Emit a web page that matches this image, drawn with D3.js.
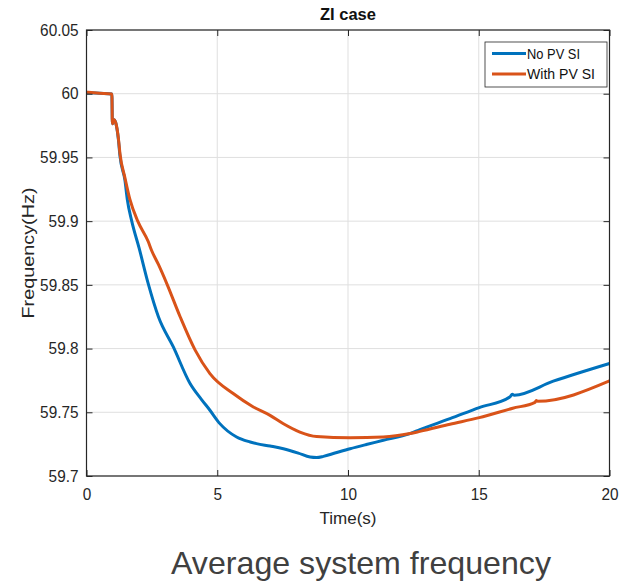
<!DOCTYPE html>
<html><head><meta charset="utf-8">
<script src="https://cdn.jsdelivr.net/npm/d3@7/dist/d3.min.js"></script>
<style>body{margin:0;background:#fff}svg{display:block}text{font-family:"Liberation Sans",Arial,sans-serif}</style>
</head><body>
<svg id="c" width="621" height="582"></svg>
<script>
const timeNoPV = [0,0.5,0.97,0.99,1.05,1.12,1.22,1.28,1.47,1.56,1.73,2.01,2.36,2.75,3.32,3.96,4.4,4.72,5.1,5.74,6.26,6.5,7.02,7.53,8.1,8.55,8.8,9.06,9.5,10.08,10.7,11.35,12.37,12.75,13.9,15.02,16.2,16.28,16.36,17.85,20];
const freqNoPV = [60.0008,60.0003,59.9998,59.9765,59.9795,59.977,59.964,59.951,59.932,59.917,59.900,59.879,59.851,59.825,59.8013,59.7726,59.760,59.7516,59.7411,59.7306,59.7267,59.7254,59.7235,59.7214,59.718,59.7149,59.7145,59.7154,59.718,59.7214,59.7247,59.728,59.7333,59.7364,59.745,59.7537,59.7622,59.7642,59.7634,59.7744,59.7883];
const timeWithPV = [0,0.5,0.97,0.99,1.05,1.12,1.22,1.28,1.47,1.66,1.96,2.36,2.49,2.75,3.07,3.58,4.15,4.72,5.61,6.38,7.02,7.53,8.16,8.8,10.08,11.35,12.37,12.75,13.9,15.02,16.3,17.15,17.2,17.25,20];
const freqWithPV = [60.0012,60.0004,59.9998,59.9765,59.9795,59.977,59.965,59.953,59.934,59.917,59.900,59.884,59.877,59.866,59.851,59.825,59.799,59.7804,59.7647,59.7542,59.7476,59.741,59.7345,59.731,59.730,59.7306,59.7333,59.735,59.7406,59.7458,59.7532,59.7578,59.7592,59.7586,59.7746];
const xTicks = [0,5,10,15,20];
const yTicks = [59.7,59.75,59.8,59.85,59.9,59.95,60,60.05];
const yTickLabels = ["59.7","59.75","59.8","59.85","59.9","59.95","60","60.05"];
const seriesNames = ["No PV SI","With PV SI"];
const seriesColors = ["#0072BD","#D95319"];

const svg = d3.select("#c");
const L=86.5, R=609.5, T=30, B=476;
const x = d3.scaleLinear().domain([0,20]).range([L,R]);
const y = d3.scaleLinear().domain([59.7,60.05]).range([B,T]);
const axisCol = "#262626";

const g = svg.append("g");
g.selectAll(".gx").data(xTicks).enter().append("line")
 .attr("x1",d=>x(d)).attr("x2",d=>x(d)).attr("y1",T).attr("y2",B)
 .attr("stroke","#dfdfdf").attr("stroke-width",1);
g.selectAll(".gy").data(yTicks).enter().append("line")
 .attr("x1",L).attr("x2",R).attr("y1",d=>y(d)).attr("y2",d=>y(d))
 .attr("stroke","#dfdfdf").attr("stroke-width",1);

const line = d3.line().x(d=>x(d[0])).y(d=>y(d[1])).curve(d3.curveMonotoneX);
const dataNo = timeNoPV.map((t,i)=>[t,freqNoPV[i]]);
const dataWith = timeWithPV.map((t,i)=>[t,freqWithPV[i]]);
svg.append("clipPath").attr("id","cp").append("rect").attr("x",L).attr("y",T).attr("width",R-L).attr("height",B-T);
const lg = svg.append("g").attr("clip-path","url(#cp)");
lg.append("path").datum(dataNo).attr("d",line).attr("fill","none").attr("stroke",seriesColors[0]).attr("stroke-width",3).attr("stroke-linejoin","round");
lg.append("path").datum(dataWith).attr("d",line).attr("fill","none").attr("stroke",seriesColors[1]).attr("stroke-width",3).attr("stroke-linejoin","round");

const fmt = d=>yTickLabels[yTicks.indexOf(d)];
const ax = (sel,a)=>{sel.call(a); sel.select(".domain").remove(); sel.selectAll("line").attr("stroke",axisCol); sel.selectAll("text").attr("fill",axisCol);};
const axB = svg.append("g").attr("transform",`translate(0,${B})`);
ax(axB, d3.axisBottom(x).tickValues(xTicks).tickSize(-6).tickPadding(12).tickFormat(d3.format("d")));
axB.selectAll("text").attr("font-size",16.5);
const axT = svg.append("g").attr("transform",`translate(0,${T})`);
ax(axT, d3.axisTop(x).tickValues(xTicks).tickSize(-6).tickFormat(""));
const axL = svg.append("g").attr("transform",`translate(${L},0)`);
ax(axL, d3.axisLeft(y).tickValues(yTicks).tickSize(-6).tickPadding(8).tickFormat(fmt));
axL.selectAll("text").attr("font-size",16.5);
const axR = svg.append("g").attr("transform",`translate(${R},0)`);
ax(axR, d3.axisRight(y).tickValues(yTicks).tickSize(-6).tickFormat(""));
svg.append("rect").attr("x",L).attr("y",T).attr("width",R-L).attr("height",B-T).attr("fill","none").attr("stroke",axisCol).attr("stroke-width",1.2);

function squeeze(sel,f){sel.each(function(){const w=this.getComputedTextLength();d3.select(this).attr("textLength",w*f).attr("lengthAdjust","spacingAndGlyphs");});}
squeeze(axB.selectAll("text"),0.93);
squeeze(axL.selectAll("text"),0.93);

svg.append("text").attr("x",(L+R)/2).attr("y",20).attr("text-anchor","middle").attr("font-size",16.5).attr("font-weight","bold").attr("fill","#111").text("ZI case");
svg.append("text").attr("x",(L+R)/2).attr("y",524).attr("text-anchor","middle").attr("font-size",17).attr("fill",axisCol).text("Time(s)");
svg.append("text").attr("transform",`translate(34,${(T+B)/2}) rotate(-90)`).attr("text-anchor","middle").attr("font-size",17).attr("fill",axisCol).attr("textLength",131).attr("lengthAdjust","spacingAndGlyphs").text("Frequency(Hz)");

const leg = svg.append("g");
leg.append("rect").attr("x",485).attr("y",42).attr("width",122).attr("height",45).attr("fill","#fff").attr("stroke",axisCol).attr("stroke-width",0.8);
seriesNames.forEach((n,i)=>{
  const yy = 53.5 + i*20.5;
  leg.append("line").attr("x1",492).attr("x2",526).attr("y1",yy).attr("y2",yy).attr("stroke",seriesColors[i]).attr("stroke-width",3);
  leg.append("text").attr("x",527).attr("y",yy+5).attr("font-size",14.5).attr("fill","#111").attr("textLength",i?68:53).attr("lengthAdjust","spacingAndGlyphs").text(n);
});

svg.append("text").attr("x",361).attr("y",574).attr("text-anchor","middle").attr("font-family","'Open Sans',sans-serif").attr("font-size",32).attr("fill","#404040").attr("textLength",380).attr("lengthAdjust","spacingAndGlyphs").text("Average system frequency");
</script>
</body></html>
